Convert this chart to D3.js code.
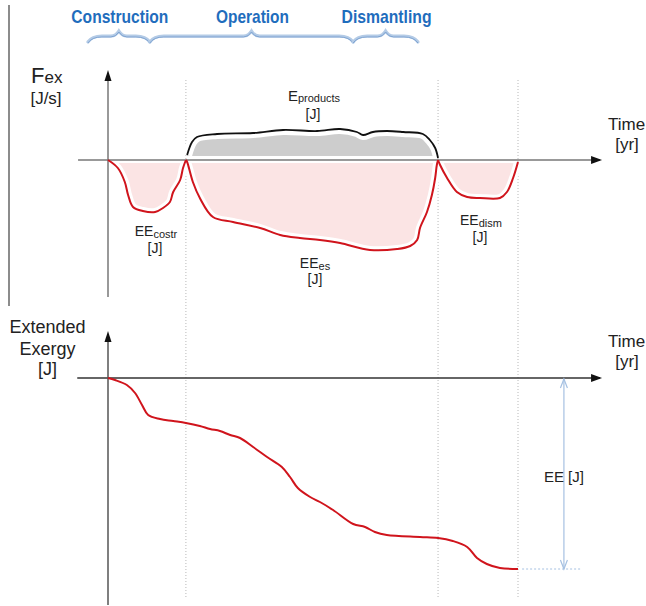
<!DOCTYPE html>
<html><head><meta charset="utf-8">
<script src="https://cdn.jsdelivr.net/npm/d3@7"></script>
<style>body{margin:0;background:#fff}svg{display:block}text{font-family:"Liberation Sans",Arial,Helvetica,sans-serif}</style>
</head><body><svg id="c" width="646" height="606"></svg>
<script>
// ---------- data ----------
const phaseNames = ["Construction", "Operation", "Dismantling"];
const phaseBounds = [0, 19, 80.5, 100];            // time units
const braceStart = [-4.9, 10.2, 59.8];
const braceEnd   = [10.2, 59.8, 75.6];

// exergy flow (top panel), [time, Fex]
const eeConstr = [[0,0],[2.4,-8],[4.1,-22],[4.9,-35],[6.1,-47],[8.5,-51],[11.5,-52],[13.4,-48],[15.1,-42],[15.9,-32],[17.6,-20],[18.3,-8],[19,0]];
const eeOper = [[19,0],[19.3,-2],[20.7,-22],[22.4,-38],[25.6,-57],[30.5,-62],[37.1,-68],[42,-75],[46.8,-78],[51.7,-80],[56.6,-83],[63.9,-90],[70.5,-89],[73.7,-86],[75.4,-80],[76.1,-68],[77.8,-52],[79,-35],[79.8,-18],[80.2,-5],[80.5,0]];
const eeDism = [[80.5,0],[81,-5],[82.7,-18],[85.1,-32],[87.6,-37],[90.7,-38],[95.6,-38],[97.3,-32],[98.8,-18],[100,-2]];
const eProducts = [[19.3,5],[20.5,18],[21.7,23],[26.6,26],[35.4,27],[42.7,30],[51,29],[56.6,31],[60.7,28],[62.2,25],[64.6,28],[68,29],[72,28],[76.8,26],[78.5,20],[79.8,12],[80.5,2]];

// cumulative extended exergy (bottom panel)
const eeCumul = [[0,0],[1.7,-2],[4.6,-7],[6.6,-15],[8.3,-27],[9.8,-37],[12.7,-41],[15.9,-43],[19,-45],[22.4,-48],[24.9,-51],[27.3,-53],[29.8,-57],[32.2,-60],[35.4,-69],[38.8,-79],[42.4,-89],[44.4,-99],[46.3,-110],[49.3,-119],[51.7,-124],[54.9,-132],[59.8,-146],[62.7,-149],[65.1,-154],[68,-157],[76.1,-159],[80.5,-160],[84.1,-163],[87.6,-169],[90,-180],[92.4,-186],[95.6,-190],[100,-191]];
const eeTotal = -191;

// ---------- scales ----------
const svg = d3.select("#c");
const x = d3.scaleLinear().domain([0,100]).range([108,518]);
const yT = d3.scaleLinear().domain([-100,0]).range([260,160]);
const yB = d3.scaleLinear().domain([-200,0]).range([578,378]);

const RED = "#d0141c", BLUE = "#1f6dbd";
const titleWidths = [97, 73, 90];

// left border line
svg.append("line").attr("x1",9).attr("x2",9).attr("y1",5).attr("y2",306)
  .attr("stroke","#666").attr("stroke-width",1.5);

// phase titles and braces
phaseNames.forEach((n,i)=>{
  const x1 = x(braceStart[i]), x2 = x(braceEnd[i]), xm = (x1+x2)/2;
  const p = `M${x1},42 Q${x1+4},36 ${x1+14},36 L${xm-8},36 Q${xm-3},36 ${xm},31 Q${xm+3},36 ${xm+8},36 L${x2-14},36 Q${x2-4},36 ${x2},42`;
  svg.append("path").attr("d",p).attr("fill","none").attr("stroke","#b4cbe6").attr("stroke-width",3.2).attr("stroke-linecap","round");
  svg.append("path").attr("d",p).attr("fill","none").attr("stroke","#6f98cc").attr("stroke-width",0.8).attr("transform","translate(0,1)");
  svg.append("text").attr("x",xm+1).attr("y",23).attr("text-anchor","middle")
    .attr("fill",BLUE).attr("font-weight","bold").attr("font-size",19)
    .attr("textLength",titleWidths[i]).attr("lengthAdjust","spacingAndGlyphs")
    .text(n);
});

// dotted phase boundaries
phaseBounds.slice(1).forEach(b=>{
  svg.append("line").attr("x1",x(b)).attr("x2",x(b)).attr("y1",80).attr("y2",597)
    .attr("stroke","#b8b8b8").attr("stroke-width",1).attr("stroke-dasharray","1,2");
});

// ---------- top panel ----------
const lineT = d3.line().x(d=>x(d[0])).y(d=>yT(d[1])).curve(d3.curveCatmullRom.alpha(0.5));
const pinkArea = d3.area().x(d=>x(d[0])).y0(yT(-3)).y1(d=>yT(Math.min(d[1],-3))).curve(d3.curveCatmullRom.alpha(0.5));
const grayArea = d3.area().x(d=>x(d[0])).y0(yT(4)).y1(d=>yT(Math.max(d[1],4))).curve(d3.curveCatmullRom.alpha(0.5));

[eeConstr, eeOper, eeDism].forEach(s=>{
  svg.append("path").attr("d",pinkArea(s)).attr("fill","#fbe4e4");
});
svg.append("path").attr("d",grayArea(eProducts)).attr("fill","#cdcdcd");
[eeConstr, eeOper, eeDism].forEach(s=>{
  svg.append("path").attr("d",lineT(s)).attr("fill","none").attr("stroke","#fff").attr("stroke-width",8);
});
svg.append("path").attr("d",lineT(eProducts)).attr("fill","none").attr("stroke","#fff").attr("stroke-width",10);

function arrowHead(xt, yt, dir, color){
  const p = dir==="right" ? `M${xt},${yt} L${xt-11},${yt-4} L${xt-11},${yt+4} Z`
                          : `M${xt},${yt} L${xt-3.5},${yt+11} L${xt+3.5},${yt+11} Z`;
  svg.append("path").attr("d",p).attr("fill",color);
}
// top axes
svg.append("line").attr("x1",x(-7.3)).attr("x2",x(120)).attr("y1",yT(0)).attr("y2",yT(0)).attr("stroke","#777").attr("stroke-width",1.5);
arrowHead(x(120.5), yT(0), "right", "#111");
svg.append("line").attr("x1",x(0)).attr("x2",x(0)).attr("y1",yT(-137)).attr("y2",yT(86)).attr("stroke","#777").attr("stroke-width",1.5);
arrowHead(x(0), yT(90), "up", "#111");

[eeConstr, eeOper, eeDism].forEach(s=>{
  svg.append("path").attr("d",lineT(s)).attr("fill","none").attr("stroke",RED).attr("stroke-width",2);
});
svg.append("path").attr("d",lineT(eProducts)).attr("fill","none").attr("stroke","#111").attr("stroke-width",1.8);

// top labels
function label(xc, yb, main, sub, fs, sfs, sdy){
  const t = svg.append("text").attr("x",xc).attr("y",yb).attr("text-anchor","middle").attr("font-size",fs).attr("fill","#222");
  t.append("tspan").text(main);
  if(sub) t.append("tspan").attr("font-size",sfs).attr("dy",sdy).text(sub);
}
const fex = svg.append("text").attr("x",31).attr("y",83).attr("fill","#222");
fex.append("tspan").attr("font-size",22).text("F");
fex.append("tspan").attr("font-size",17).text("ex");
label(46, 104, "[J/s]", null, 17);
label(314, 101, "E", "products", 15, 11, 1);
label(313, 119, "[J]", null, 14);
label(156, 236, "EE", "costr", 14, 11, 2);
label(155, 253, "[J]", null, 14);
label(315, 268, "EE", "es", 14, 11, 2);
label(315, 284, "[J]", null, 14);
label(481, 225, "EE", "dism", 14, 11, 2);
label(480, 242, "[J]", null, 14);
svg.append("text").attr("x",608).attr("y",130).attr("font-size",17).attr("fill","#222").text("Time");
label(627, 150, "[yr]", null, 17);

// ---------- bottom panel ----------
const lineB = d3.line().x(d=>x(d[0])).y(d=>yB(d[1])).curve(d3.curveCatmullRom.alpha(0.5));
svg.append("line").attr("x1",x(-7.5)).attr("x2",x(120)).attr("y1",yB(0)).attr("y2",yB(0)).attr("stroke","#333").attr("stroke-width",1.5);
arrowHead(x(120.5), yB(0), "right", "#111");
svg.append("line").attr("x1",x(0)).attr("x2",x(0)).attr("y1",yB(-227)).attr("y2",yB(43)).attr("stroke","#555").attr("stroke-width",1.5);
arrowHead(x(0), yB(47), "up", "#111");
svg.append("path").attr("d",lineB(eeCumul)).attr("fill","none").attr("stroke",RED).attr("stroke-width",2);

// EE annotation
const xa = x(111.2), ya1 = yB(0)+1, ya2 = yB(eeTotal);
const ABL = "#a6c1e2";
svg.append("line").attr("x1",x(101)).attr("x2",x(115.5)).attr("y1",ya2).attr("y2",ya2)
  .attr("stroke",ABL).attr("stroke-width",1).attr("stroke-dasharray","2,2");
svg.append("line").attr("x1",xa).attr("x2",xa).attr("y1",ya1).attr("y2",ya2).attr("stroke",ABL).attr("stroke-width",1.2);
svg.append("path").attr("d",`M${xa-3.5},${ya1+9} L${xa},${ya1} L${xa+3.5},${ya1+9}`).attr("fill","none").attr("stroke",ABL).attr("stroke-width",1.2);
svg.append("path").attr("d",`M${xa-3.5},${ya2-9} L${xa},${ya2} L${xa+3.5},${ya2-9}`).attr("fill","none").attr("stroke",ABL).attr("stroke-width",1.2);
svg.append("text").attr("x",xa-20).attr("y",482).attr("font-size",15).attr("fill","#222").text("EE [J]");

label(47.5, 333, "Extended", null, 18);
label(47.5, 355, "Exergy", null, 18);
label(47.5, 375, "[J]", null, 18);
svg.append("text").attr("x",608).attr("y",347).attr("font-size",17).attr("fill","#222").text("Time");
label(627, 367, "[yr]", null, 17);
</script></body></html>
